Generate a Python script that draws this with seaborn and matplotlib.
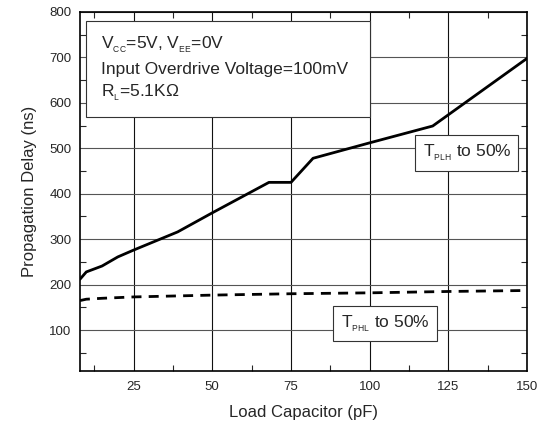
import matplotlib
matplotlib.use("Agg")
import matplotlib.pyplot as plt
from matplotlib.patches import Rectangle
from matplotlib.ticker import MultipleLocator
import pandas as pd
import seaborn as sns

# Propagation delay vs load capacitance
cap_plh = [8, 10, 15, 20, 25, 39, 50, 68, 75, 82, 100, 120, 150]
tplh = [212, 228, 241, 261, 276, 316, 358, 425, 425, 478, 512, 549, 698]

cap_phl = [8, 10, 15, 25, 50, 75, 100, 125, 148]
tphl = [165, 168, 170, 173, 177, 180, 182, 185, 187]

x_ticks = [25, 50, 75, 100, 125, 150]
y_ticks = [100, 200, 300, 400, 500, 600, 700, 800]

cond_lines = ["V$_{_{CC}}$=5V, V$_{_{EE}}$=0V", "Input Overdrive Voltage=100mV",
              "R$_{_L}$=5.1K\u03a9"]

sns.set_style("ticks")
plt.rcParams["font.family"] = ["Liberation Sans", "DejaVu Sans"]
plt.rcParams["mathtext.fontset"] = "custom"
plt.rcParams["mathtext.rm"] = "Liberation Sans"
plt.rcParams["mathtext.it"] = "Liberation Sans:italic"
plt.rcParams["mathtext.default"] = "rm"

df_plh = pd.DataFrame({"cap": cap_plh, "delay": tplh})
df_phl = pd.DataFrame({"cap": cap_phl, "delay": tphl})

fig = plt.figure(figsize=(5.48, 4.25), dpi=100)
ax = fig.add_axes([0.146, 0.127, 0.816, 0.845])

sns.lineplot(data=df_plh, x="cap", y="delay", ax=ax, color="black", linewidth=2.0)
sns.lineplot(data=df_phl, x="cap", y="delay", ax=ax, color="black", linewidth=2.0)
ax.lines[-1].set_dashes((3.6, 2.6))

ax.set_xlim(8, 150)
ax.set_ylim(10, 800)
ax.set_xticks(x_ticks)
ax.set_yticks(y_ticks)
ax.xaxis.set_minor_locator(MultipleLocator(12.5))
ax.yaxis.set_minor_locator(MultipleLocator(50))
ax.xaxis.grid(True, which="major", color="#111111", linewidth=0.8)
ax.yaxis.grid(True, which="major", color="#555555", linewidth=0.8)
ax.set_axisbelow(True)

ax.tick_params(which="both", direction="in", top=True, right=True,
               labeltop=False, labelright=False, labelsize=9.5, width=0.8)
ax.tick_params(which="major", length=0)
ax.tick_params(axis="x", which="major", pad=7)
ax.tick_params(axis="y", which="major", pad=6)
ax.tick_params(which="minor", length=4)
for s in ax.spines.values():
    s.set_linewidth(1.2)
    s.set_color("black")

ax.set_xlabel("Load Capacitor (pF)", fontsize=12, labelpad=9)
ax.set_ylabel("Propagation Delay (ns)", fontsize=12, labelpad=9)

# conditions box
ax.add_patch(Rectangle((0.0134, 0.707), 0.636, 0.269, transform=ax.transAxes,
                       facecolor="white", edgecolor="#333333", linewidth=0.8, zorder=3))
for txt, yb in zip(cond_lines, [0.899, 0.8265, 0.764]):
    ax.text(0.047, yb, txt, transform=ax.transAxes, fontsize=12.5,
            ha="left", va="baseline", zorder=4)

box = dict(boxstyle="square,pad=0.42", facecolor="white", edgecolor="#333333",
           linewidth=0.8)
ax.text(0.865, 0.607, "T$_{_{PLH}}$ to 50%", transform=ax.transAxes, fontsize=12.5,
        ha="center", va="center", bbox=box, zorder=4)
ax.text(0.682, 0.133, "T$_{_{PHL}}$ to 50%", transform=ax.transAxes, fontsize=12.5,
        ha="center", va="center", bbox=box, zorder=4)

plt.savefig("out.png", dpi=100)
